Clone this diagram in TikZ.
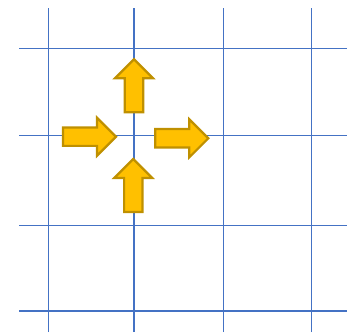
\documentclass[tikz,border=0pt]{standalone}
\usepackage{xcolor}
\usepackage{tikz}
\definecolor{gridblue}{HTML}{4472C4}
\definecolor{arrowfill}{HTML}{FFC000}
\definecolor{arrowedge}{HTML}{BF9000}
\tikzset{
    gridline/.style={gridblue, line width=1.1pt},
    blockarrow/.style={fill=arrowfill, draw=arrowedge, line width=2.2pt, line join=miter}
}
\begin{document}
\begin{tikzpicture}[x=1pt, y=1pt]
    \useasboundingbox (0, 0) rectangle (361, 332);

    % Grid
    \foreach \gx in {48.7, 134, 223.3, 311.3}
        \draw[gridline] (\gx, 0) -- (\gx, 324);
    \foreach \gy in {283.7, 196.3, 106.7, 21}
        \draw[gridline] (19.3, \gy) -- (346.7, \gy);

    % Block arrows (tip x, tip y, direction)
    \foreach \tx/\ty/\rot in {134/272.7/90, 116/195.3/0, 208.3/193.7/0, 133.3/173/90}
        \draw[blockarrow, shift={(\tx, \ty)}, rotate=\rot]
            (0, 0) -- (-19, 19) -- (-19, 9.2) -- (-53, 9.2) -- (-53, -9.2)
            -- (-19, -9.2) -- (-19, -19) -- cycle;
\end{tikzpicture}
\end{document}
